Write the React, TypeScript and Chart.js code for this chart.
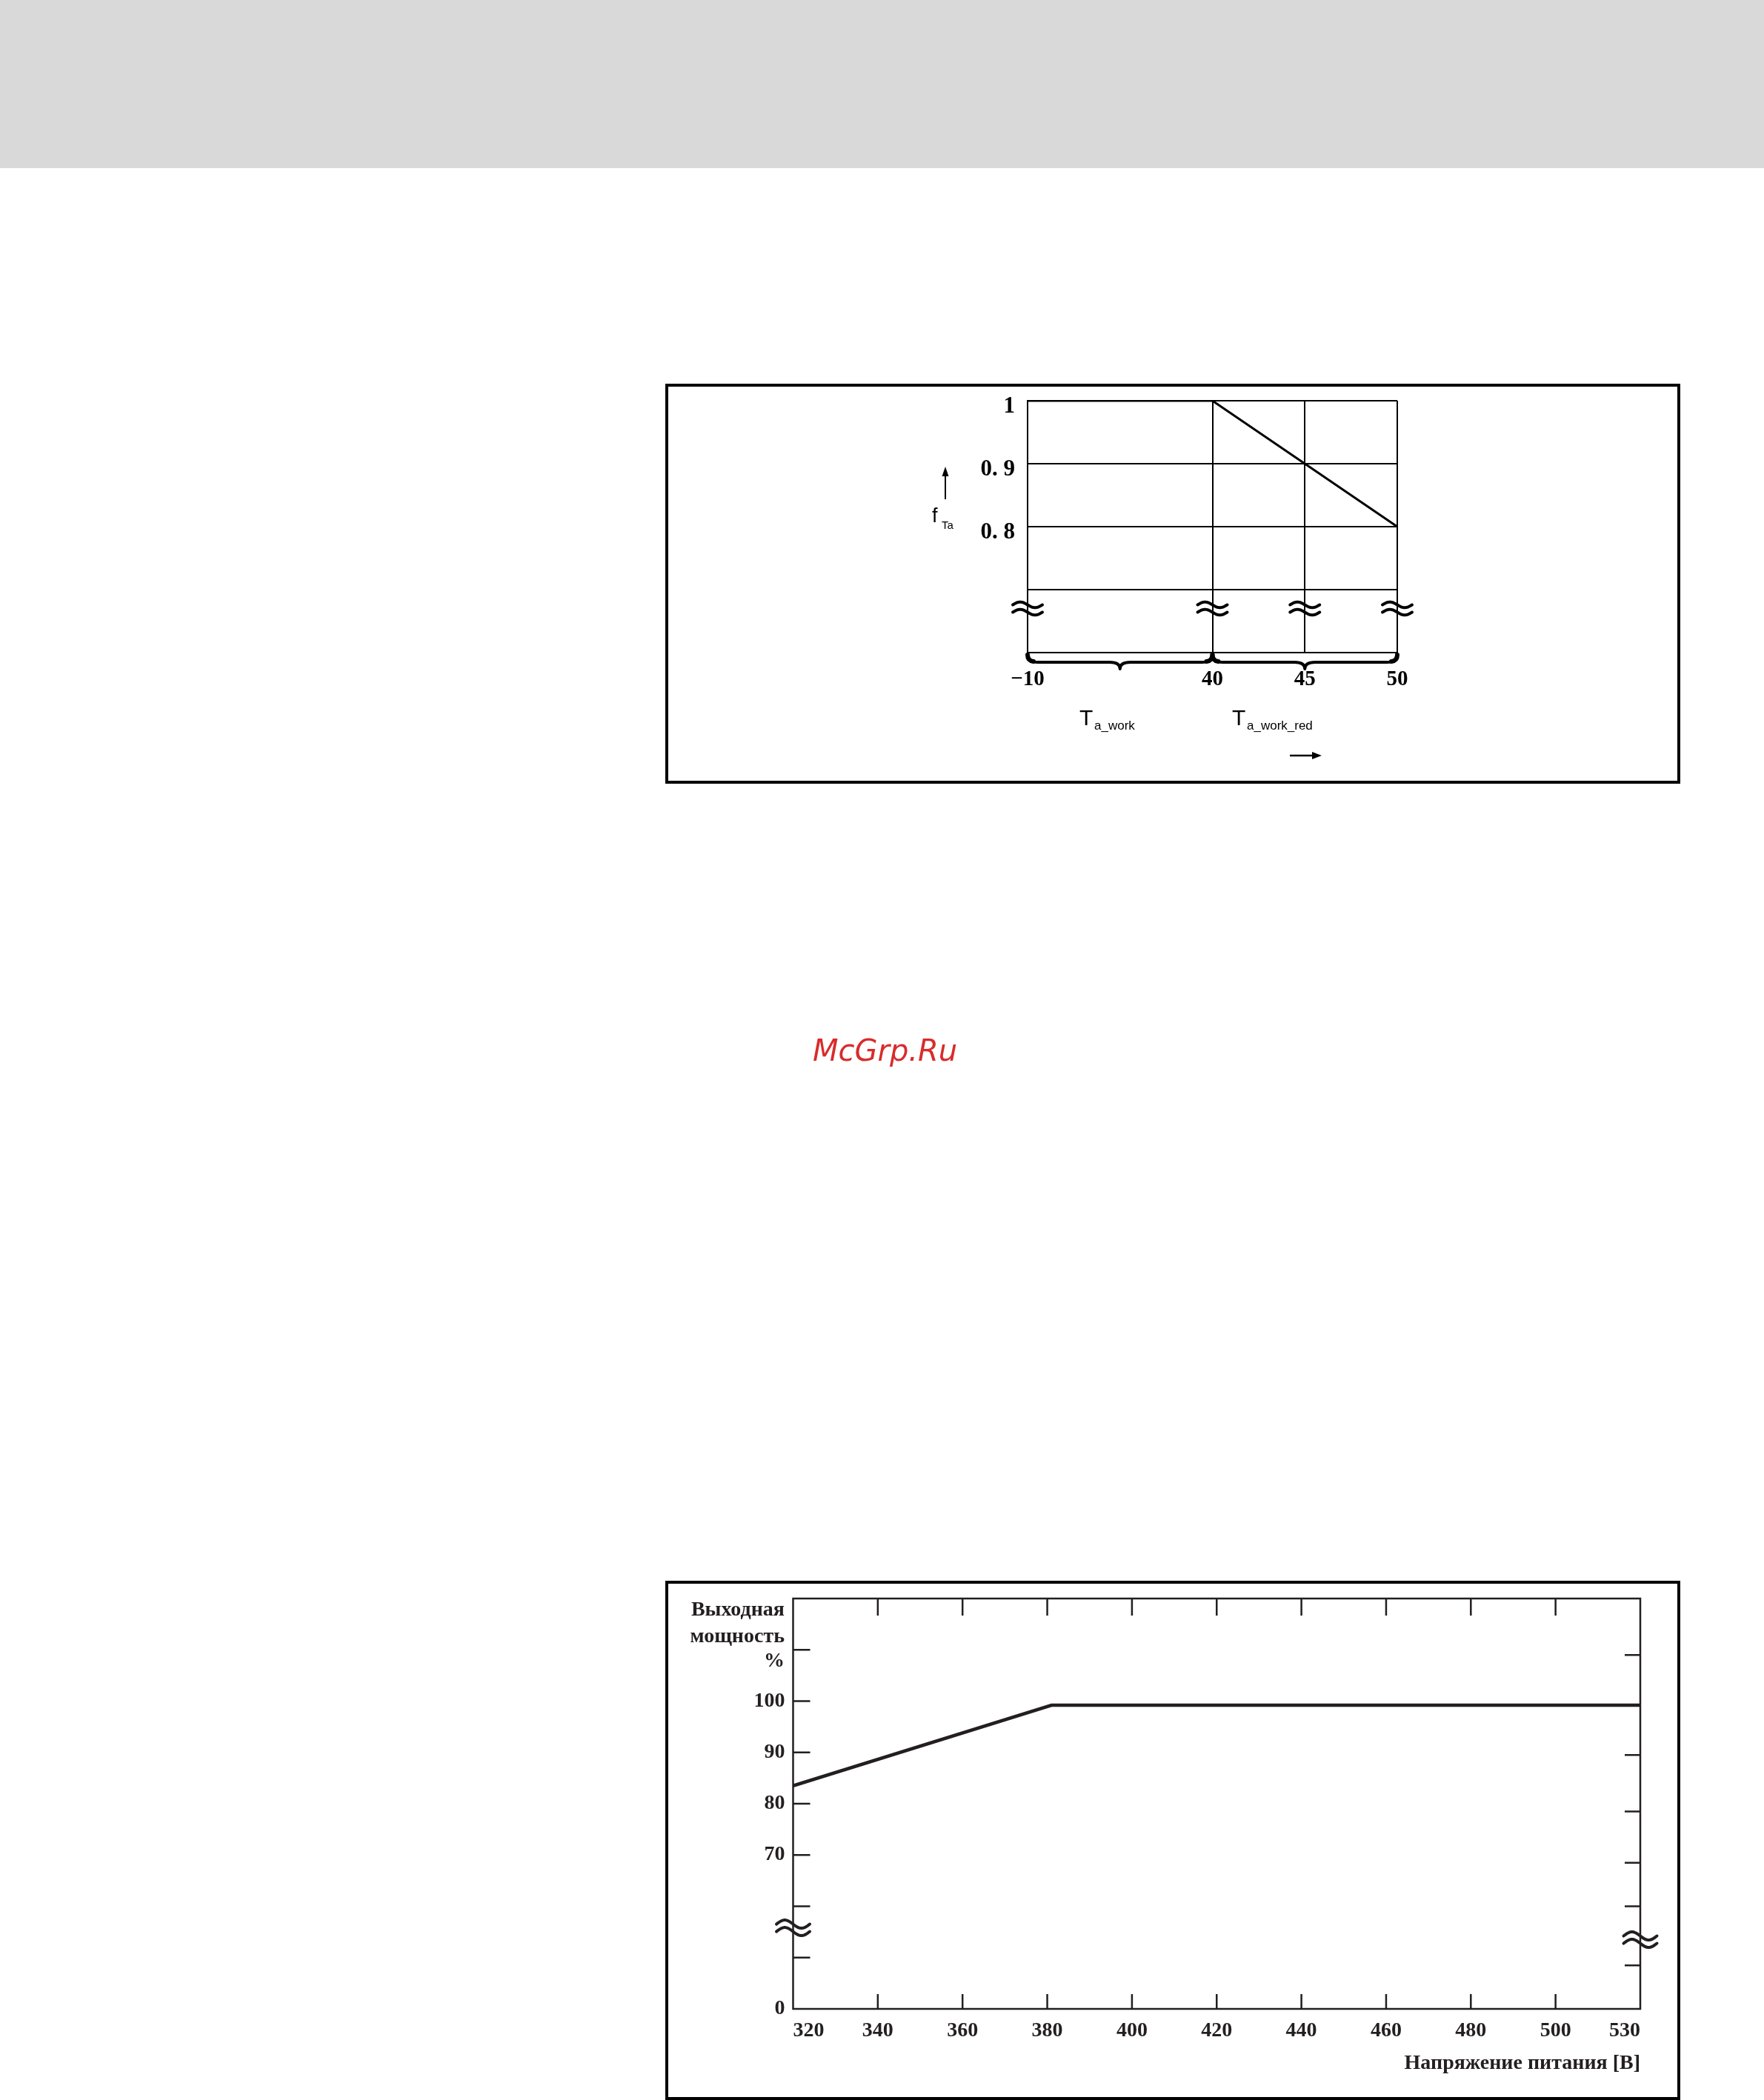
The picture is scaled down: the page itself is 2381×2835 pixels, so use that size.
import React, { useEffect, useRef } from 'react';
import { Chart, registerables } from 'chart.js';

Chart.register(...registerables);

// ---------- Top chart: derating factor f_Ta vs ambient temperature ----------
const tempCategories = ['−10', '', '40', '45', '50']; // '' = spacer slot of the broken axis
const fTaValues: (number | null)[] = [1, null, 1, 0.9, 0.8];
const fTaTickValues = [0.8, 0.9, 1];
const fTaTickLabels = ['0. 8', '0. 9', '1'];
const fTaMin = 0.6;
const fTaMax = 1.0;
const fTaBreakValue = 0.67;
const tempBraces: [number, number][] = [[0, 2], [2, 4]];
const tempBreakSlots = [0, 2, 3, 4];

// ---------- Bottom chart: output power vs supply voltage ----------
const voltage = [320, 381, 530];
const outputPower = [83.5, 99.2, 99.2];
const voltageTicks = [320, 340, 360, 380, 400, 420, 440, 460, 480, 500, 520];
const voltageTickLabels = ['320', '340', '360', '380', '400', '420', '440', '460', '480', '500', '530'];
const voltageInnerMarks = [340, 360, 380, 400, 420, 440, 460, 480, 500];
const powerTickValues = [40, 70, 80, 90, 100];
const powerTickLabels = ['0', '70', '80', '90', '100'];
const powerMarksLeft = [50, 60, 70, 80, 90, 100, 110];
const powerMarksRight = [48.5, 60, 68.5, 78.5, 89.5, 109];
const powerBreakLeft = 55.8;
const powerBreakRight = 53.5;

const INK = '#231f20';
const SERIF = "'Liberation Serif', 'Times New Roman', serif";
const SANS = "'Liberation Sans', Arial, sans-serif";

function drawWaves(ctx: CanvasRenderingContext2D, cx: number, cy: number, w: number, amp: number, gap: number, lw: number) {
  ctx.lineWidth = lw;
  ctx.lineCap = 'round';
  for (const dy of [-gap / 2, gap / 2]) {
    ctx.beginPath();
    for (let i = 0; i <= 30; i++) {
      const t = i / 30;
      const px = cx - w / 2 + w * t;
      const py = cy + dy - amp * Math.sin(2 * Math.PI * t);
      if (i === 0) ctx.moveTo(px, py);
      else ctx.lineTo(px, py);
    }
    ctx.stroke();
  }
}

function drawBrace(ctx: CanvasRenderingContext2D, x1: number, x2: number, y0: number, bar: number, tip: number) {
  const mid = (x1 + x2) / 2;
  const r = 14;
  const yb = y0 + bar;
  ctx.beginPath();
  ctx.moveTo(x1, y0);
  ctx.quadraticCurveTo(x1, yb, x1 + r, yb);
  ctx.lineTo(mid - r, yb);
  ctx.quadraticCurveTo(mid, yb, mid, y0 + tip);
  ctx.quadraticCurveTo(mid, yb, mid + r, yb);
  ctx.lineTo(x2 - r, yb);
  ctx.quadraticCurveTo(x2, yb, x2, y0);
  ctx.stroke();
  // thick brace ends
  ctx.lineWidth = 6;
  ctx.beginPath();
  ctx.moveTo(x1, y0);
  ctx.quadraticCurveTo(x1, yb - 2, x1 + 8, yb - 1);
  ctx.moveTo(x2, y0);
  ctx.quadraticCurveTo(x2, yb - 2, x2 - 8, yb - 1);
  ctx.stroke();
  ctx.lineWidth = 4;
}

function makeTopConfig(): any {
  const decor = {
    id: 'topDecor',
    afterDraw(chart: any) {
      const { ctx, chartArea, scales } = chart;
      const x = scales.x;
      const y = scales.y;
      ctx.save();
      ctx.strokeStyle = '#000';
      ctx.lineWidth = 4;
      ctx.lineJoin = 'round';
      ctx.lineCap = 'round';
      for (const [a, b] of tempBraces) {
        drawBrace(ctx, x.getPixelForValue(a), x.getPixelForValue(b), chartArea.bottom + 3, 10, 19);
      }
      const yb = y.getPixelForValue(fTaBreakValue);
      for (const s of tempBreakSlots) {
        drawWaves(ctx, x.getPixelForValue(s), yb, 40, 3.8, 10, 4);
      }
      ctx.restore();
    },
  };
  return {
    type: 'line',
    data: {
      labels: tempCategories,
      datasets: [
        {
          data: fTaValues,
          borderColor: '#000',
          borderWidth: 3,
          pointRadius: 0,
          spanGaps: true,
          tension: 0,
          fill: false,
        },
      ],
    },
    options: {
      animation: false,
      responsive: false,
      devicePixelRatio: 1,
      layout: { padding: { left: 385, right: 378, top: 19, bottom: 113 } },
      plugins: { legend: { display: false }, tooltip: { enabled: false } },
      scales: {
        x: {
          type: 'category',
          offset: false,
          grid: {
            color: (c: any) => (c.index === 1 ? 'rgba(0,0,0,0)' : '#000'),
            lineWidth: 2,
            drawTicks: false,
          },
          border: { color: '#000', width: 2 },
          ticks: {
            padding: 19,
            font: { family: SERIF, weight: 'bold', size: 29 },
            color: '#000',
            autoSkip: false,
            maxRotation: 0,
          },
          afterFit: (s: any) => {
            s.height = 60;
            s.paddingLeft = 0;
            s.paddingRight = 0;
          },
        },
        y: {
          min: fTaMin,
          max: fTaMax,
          grid: { color: '#000', lineWidth: 2, drawTicks: false },
          border: { color: '#000', width: 2 },
          ticks: {
            stepSize: 0.1,
            padding: 17,
            labelOffset: 8,
            font: { family: SERIF, weight: 'bold', size: 31 },
            color: '#000',
            callback: (v: any) => {
              const i = fTaTickValues.findIndex((t) => Math.abs(t - Number(v)) < 1e-6);
              return i >= 0 ? fTaTickLabels[i] : '';
            },
          },
          afterFit: (s: any) => {
            s.width = 100;
            s.paddingTop = 0;
            s.paddingBottom = 0;
          },
        },
      },
    },
    plugins: [decor],
  };
}

function makeBottomConfig(): any {
  const decor = {
    id: 'bottomDecor',
    afterDraw(chart: any) {
      const { ctx, chartArea, scales } = chart;
      const x = scales.x;
      const y = scales.y;
      const { left, right, top, bottom } = chartArea;
      ctx.save();
      ctx.strokeStyle = INK;
      ctx.lineWidth = 2.5;
      ctx.strokeRect(left, top, right - left, bottom - top);
      ctx.beginPath();
      for (const v of powerMarksLeft) {
        const py = y.getPixelForValue(v);
        ctx.moveTo(left, py);
        ctx.lineTo(left + 23, py);
      }
      for (const v of powerMarksRight) {
        const py = y.getPixelForValue(v);
        ctx.moveTo(right - 21, py);
        ctx.lineTo(right, py);
      }
      for (const v of voltageInnerMarks) {
        const px = x.getPixelForValue(v);
        ctx.moveTo(px, top);
        ctx.lineTo(px, top + 23);
        ctx.moveTo(px, bottom);
        ctx.lineTo(px, bottom - 20);
      }
      ctx.stroke();
      drawWaves(ctx, left, y.getPixelForValue(powerBreakLeft), 45, 5.5, 10, 4);
      drawWaves(ctx, right, y.getPixelForValue(powerBreakRight), 45, 5.5, 10, 4);
      ctx.restore();
    },
  };
  const tickFont = { family: SERIF, weight: 'bold', size: 28 };
  return {
    type: 'line',
    data: {
      datasets: [
        {
          data: voltage.map((v, i) => ({ x: v, y: outputPower[i] })),
          borderColor: INK,
          borderWidth: 4.5,
          pointRadius: 0,
          tension: 0,
          fill: false,
        },
      ],
    },
    options: {
      animation: false,
      responsive: false,
      devicePixelRatio: 1,
      layout: { padding: { left: 68.5, right: 50, top: 20, bottom: 10 } },
      plugins: { legend: { display: false }, tooltip: { enabled: false } },
      scales: {
        x: {
          type: 'linear',
          min: voltageTicks[0],
          max: voltageTicks[voltageTicks.length - 1],
          afterBuildTicks: (s: any) => {
            s.ticks = voltageTicks.map((v) => ({ value: v }));
          },
          grid: { display: false, drawTicks: false },
          border: { display: false },
          ticks: {
            align: 'inner',
            padding: 13,
            font: tickFont,
            color: INK,
            autoSkip: false,
            maxRotation: 0,
            callback: (v: any) => {
              const i = voltageTicks.indexOf(Number(v));
              return i >= 0 ? voltageTickLabels[i] : '';
            },
          },
          title: {
            display: true,
            text: 'Напряжение питания [В]',
            align: 'end',
            color: INK,
            font: tickFont,
            padding: { top: 0, bottom: 18 },
          },
          afterFit: (s: any) => {
            s.height = 109;
            s.paddingLeft = 0;
            s.paddingRight = 0;
          },
        },
        y: {
          min: 40,
          max: 120,
          grid: { display: false, drawTicks: false },
          border: { display: false },
          ticks: {
            stepSize: 10,
            padding: 11,
            font: tickFont,
            color: INK,
            callback: (v: any) => {
              const i = powerTickValues.indexOf(Number(v));
              return i >= 0 ? powerTickLabels[i] : '';
            },
          },
          afterFit: (s: any) => {
            s.width = 100;
            s.paddingTop = 0;
            s.paddingBottom = 0;
          },
        },
      },
    },
    plugins: [decor],
  };
}

function ChartCanvas({ make, width, height }: { make: () => any; width: number; height: number }) {
  const ref = useRef<HTMLCanvasElement>(null);
  useEffect(() => {
    if (!ref.current) return;
    const chart = new Chart(ref.current, make());
    return () => chart.destroy();
  }, []);
  return <canvas ref={ref} width={width} height={height} style={{ display: 'block', width, height }} />;
}

export default function App() {
  const boxStyle = (top: number, height: number): React.CSSProperties => ({
    position: 'absolute',
    left: 898,
    top,
    width: 1370,
    height,
    border: '4px solid #000',
    boxSizing: 'border-box',
    background: '#fff',
  });
  return (
    <div style={{ position: 'absolute', left: 0, top: 0, width: 2381, height: 2835, background: '#fff', overflow: 'hidden' }}>
      <div style={{ position: 'absolute', left: 0, top: 0, width: 2381, height: 227, background: '#d9d9d9' }} />
      <div style={boxStyle(518, 540)}>
        <ChartCanvas make={makeTopConfig} width={1362} height={532} />
      </div>
      <div style={boxStyle(2134, 701)}>
        <ChartCanvas make={makeBottomConfig} width={1362} height={693} />
      </div>
      <svg
        width={2381}
        height={2835}
        style={{ position: 'absolute', left: 0, top: 0, pointerEvents: 'none' }}
      >
        {/* top chart axis titles */}
        <text x={1258} y={705} fontFamily={SANS} fontSize={27} fill="#000">f</text>
        <text x={1271} y={714} fontFamily={SANS} fontSize={15} fill="#000">Ta</text>
        <line x1={1276} y1={674} x2={1276} y2={640} stroke="#000" strokeWidth={2} />
        <polygon points="1276,630 1271.5,643 1280.5,643" fill="#000" />
        <text x={1457} y={979} fontFamily={SANS} fontSize={30} fill="#000">T</text>
        <text x={1477} y={985} fontFamily={SANS} fontSize={17} fill="#000">a_work</text>
        <text x={1663} y={979} fontFamily={SANS} fontSize={30} fill="#000">T</text>
        <text x={1683} y={985} fontFamily={SANS} fontSize={17} fill="#000">a_work_red</text>
        <line x1={1741} y1={1020} x2={1772} y2={1020} stroke="#000" strokeWidth={2.5} />
        <polygon points="1784,1020 1771,1015 1771,1025" fill="#000" />
        {/* watermark */}
        <text x={1097} y={1432} fontFamily="'DejaVu Sans', sans-serif" fontStyle="oblique" fontSize={40} fill="#d92b2b">McGrp.Ru</text>
        {/* bottom chart y title */}
        <text x={1059} y={2181} textAnchor="end" fontFamily={SERIF} fontWeight="bold" fontSize={28} fill={INK}>Выходная</text>
        <text x={1059} y={2217} textAnchor="end" fontFamily={SERIF} fontWeight="bold" fontSize={28} fill={INK}>мощность</text>
        <text x={1059} y={2250} textAnchor="end" fontFamily={SERIF} fontWeight="bold" fontSize={28} fill={INK}>%</text>
      </svg>
    </div>
  );
}
